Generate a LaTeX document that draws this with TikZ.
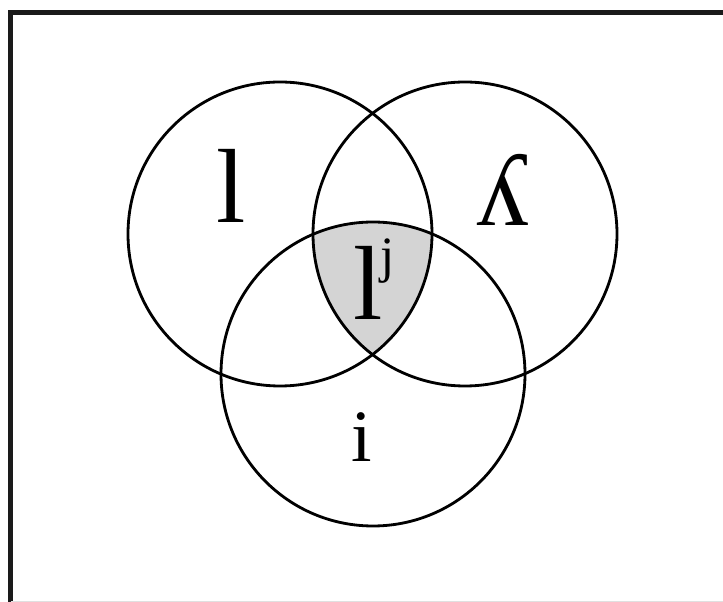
\documentclass[tikz,border=0pt]{standalone}
\usepackage{fontspec}
\setmainfont{Liberation Serif}
\usepackage{tikz}
\definecolor{overlapgray}{HTML}{D4D4D4}
\definecolor{frameline}{HTML}{1A1A1A}

\begin{document}
\begin{tikzpicture}[
    ring/.style={line width=1.6pt,black},
    biglab/.style={anchor=base,font=\fontsize{60}{62}\selectfont},
    smalllab/.style={anchor=base,font=\fontsize{42}{44}\selectfont}
  ]
  \useasboundingbox (0,0) rectangle (14.46,12.04);

  % Frame (left and top edges)
  \draw[frameline,line width=2.8pt] (0.21,0) -- (0.21,11.79) -- (14.46,11.79);
  \draw[black!12,line width=0.4pt] (0.21,0.02) -- (14.46,0.02);

  % Circle centres
  \coordinate (lc) at (5.60,7.36);
  \coordinate (rc) at (9.30,7.36);
  \coordinate (bc) at (7.46,4.56);

  % Shaded triple overlap
  \begin{scope}
    \clip (lc) circle (3.04);
    \clip (rc) circle (3.04);
    \fill[overlapgray] (bc) circle (3.04);
  \end{scope}

  % Circles
  \draw[ring] (lc) circle (3.04);
  \draw[ring] (rc) circle (3.04);
  \draw[ring] (bc) circle (3.04);

  % Labels
  \node[biglab] (lplain) at (4.62,7.58) {l};
  \node[biglab] (lpal) at (10.06,7.52) {ʎ};
  \node[biglab] (lsoft) at (7.48,5.64)
    {l\kern-1pt\raisebox{27pt}{\fontsize{29}{30}\selectfont j}};
  \node[smalllab] (ivow) at (7.24,2.80) {i};
\end{tikzpicture}
\end{document}
